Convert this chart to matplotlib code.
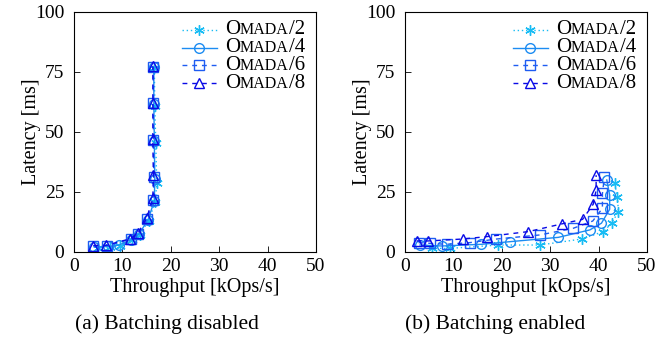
import matplotlib
matplotlib.use("Agg")
import matplotlib.pyplot as plt
from matplotlib.lines import Line2D
from matplotlib.offsetbox import (AnchoredOffsetbox, DrawingArea, HPacker,
                                  TextArea)

plt.rcParams["font.family"] = ["Liberation Serif", "DejaVu Serif"]

series_names = ["2", "4", "6", "8"]

# (a) batching disabled: throughput [kOps/s], latency [ms]
tput_off = [
    [5.0, 7.5, 9.5, 12.0, 13.6, 15.4, 16.8, 17.1, 16.9, 16.7, 16.6],
    [4.2, 7.0, 9.2, 11.8, 13.4, 15.3, 16.6, 16.7, 16.6, 16.5, 16.5],
    [4.0, 6.8, 11.7, 13.3, 15.1, 16.4, 16.5, 16.4, 16.4, 16.4],
    [4.0, 6.7, 11.6, 13.2, 15.0, 16.3, 16.4, 16.3, 16.3, 16.3],
]
lat_off = [
    [1.6, 2.0, 2.6, 4.9, 7.2, 13.0, 20.8, 28.7, 45.5, 61.0, 76.5],
    [2.0, 2.3, 2.8, 5.1, 7.4, 13.4, 21.3, 30.5, 46.3, 61.6, 76.9],
    [2.5, 2.6, 5.3, 7.5, 13.6, 21.7, 31.4, 46.7, 62.0, 77.2],
    [2.7, 2.8, 5.5, 7.8, 14.0, 22.3, 32.0, 47.0, 62.2, 77.4],
]

# (b) batching enabled
tput_on = [
    [5.5, 9.3, 19.3, 27.9, 36.5, 41.0, 42.7, 44.1, 43.9, 43.3],
    [3.1, 7.6, 15.8, 21.7, 31.7, 38.2, 40.6, 42.3, 42.3, 41.7],
    [2.8, 5.2, 8.6, 13.4, 18.9, 27.9, 34.8, 38.8, 40.8, 40.8, 41.2],
    [2.4, 4.8, 11.9, 16.9, 25.5, 32.4, 36.7, 38.9, 39.5, 39.5],
]
lat_on = [
    [1.5, 1.5, 2.9, 2.9, 5.4, 8.5, 12.0, 16.8, 23.0, 28.6],
    [2.9, 2.5, 3.2, 4.3, 6.1, 9.2, 12.0, 17.8, 23.7, 30.0],
    [3.9, 3.6, 3.2, 3.9, 5.4, 7.1, 9.9, 12.9, 18.2, 24.4, 31.1],
    [4.6, 4.6, 5.4, 6.4, 8.5, 11.7, 13.6, 19.9, 25.8, 32.0],
]

colors = ["#18BCF4", "#1C8CF2", "#1E5CF2", "#0A0AE6"]
markers = [(6, 2, 0), "o", "s", "^"]
msizes = [7.5, 7, 6.5, 7]
lstyles = [(0, (1, 2)), "-", (0, (3.5, 3.5)), (0, (3.5, 3.5))]

fig = plt.figure(figsize=(6.57, 3.45), dpi=100)
ax1 = fig.add_axes([0.1126, 0.2696, 0.3683, 0.6957])
ax2 = fig.add_axes([0.6164, 0.2696, 0.3683, 0.6957])

legend_rows_y = [0.925, 0.850, 0.777, 0.704]


def make_legend(ax):
    # small-caps "Omada" entries, placed row by row
    for i, name in enumerate(series_names):
        da = DrawingArea(25, 8, 0, 0)
        da.add_artist(Line2D([0, 25], [4, 4], color=colors[i], lw=1.0,
                             linestyle=lstyles[i]))
        da.add_artist(Line2D([12.5], [4], color=colors[i], marker=markers[i],
                             markersize=msizes[i], markerfacecolor="none",
                             markeredgewidth=1.0, lw=0))
        txt = HPacker(children=[TextArea("O", textprops=dict(fontsize=15)),
                                TextArea("MADA", textprops=dict(fontsize=11.5)),
                                TextArea("/" + name, textprops=dict(fontsize=15))],
                      align="baseline", pad=0, sep=0)
        row = HPacker(children=[da, txt], align="center", pad=0, sep=6)
        anc = AnchoredOffsetbox(loc="center left", child=row, pad=0,
                                borderpad=0, frameon=False,
                                bbox_to_anchor=(0.446, legend_rows_y[i]),
                                bbox_transform=ax.transAxes)
        ax.add_artist(anc)


for ax, tput, lat in [(ax1, tput_off, lat_off), (ax2, tput_on, lat_on)]:
    for i in range(4):
        ax.plot(tput[i], lat[i], color=colors[i], linestyle=lstyles[i],
                lw=1.0, marker=markers[i], markersize=msizes[i],
                markerfacecolor="none", markeredgewidth=1.0)
    ax.set_xlim(0, 50)
    ax.set_ylim(0, 100)
    ax.set_xticks([0, 10, 20, 30, 40, 50])
    ax.set_yticks([0, 25, 50, 75, 100])
    ax.tick_params(direction="in", length=4, width=0.6, labelsize=14,
                   top=False, right=False)
    ax.tick_params(axis="y", pad=7)
    ax.tick_params(axis="x", pad=4)
    for s in ax.spines.values():
        s.set_linewidth(0.8)
    ax.set_xlabel("Throughput [kOps/s]", fontsize=14.5)
    ax.set_ylabel("Latency [ms]", fontsize=14.5)
    ax.yaxis.set_label_coords(-0.135, 0.5)
    ax.xaxis.set_label_coords(0.5, -0.11)
    make_legend(ax)

fig.text(0.254, 0.045, "(a) Batching disabled", ha="center", fontsize=15.5)
fig.text(0.753, 0.045, "(b) Batching enabled", ha="center", fontsize=15.5)

fig.savefig("out.png", dpi=100)
